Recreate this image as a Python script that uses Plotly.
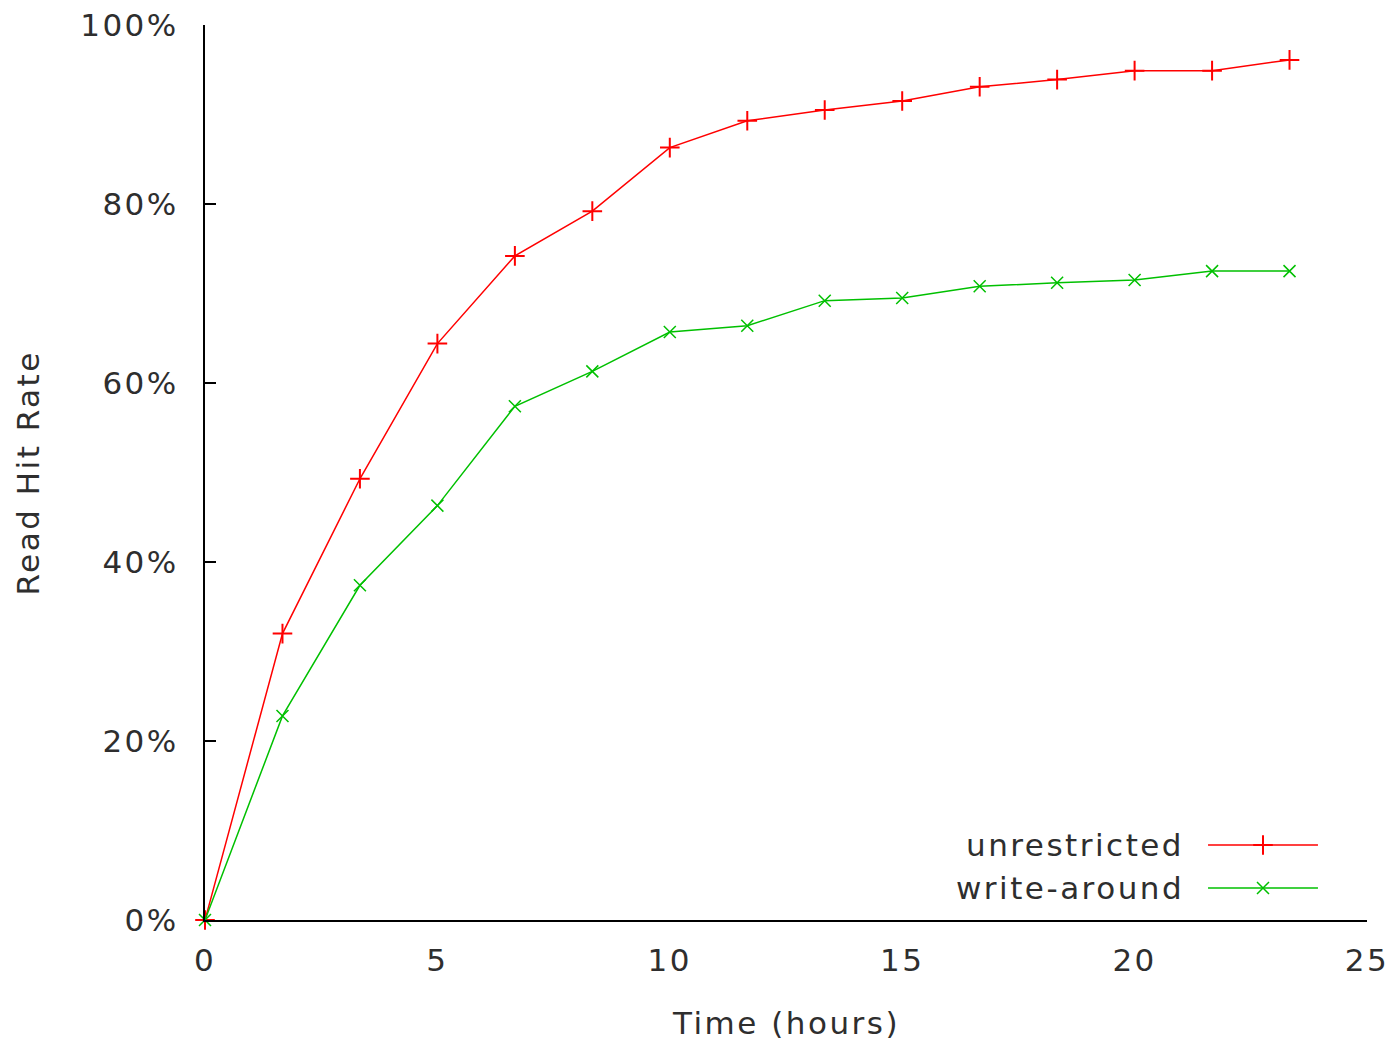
import plotly.graph_objects as go

# ---- data ----
hours = [0, 1.667, 3.333, 5, 6.667, 8.333, 10, 11.667, 13.333, 15, 16.667, 18.333, 20, 21.667, 23.333]
unrestricted = [0, 32.0, 49.3, 64.4, 74.2, 79.2, 86.3, 89.3, 90.5, 91.5, 93.1, 93.9, 94.9, 94.9, 96.1]
write_around = [0, 22.8, 37.4, 46.3, 57.4, 61.3, 65.7, 66.4, 69.2, 69.5, 70.8, 71.2, 71.5, 72.5, 72.5]
series_names = ["unrestricted", "write-around"]
x_ticks = [0, 5, 10, 15, 20, 25]
y_ticks = [0, 20, 40, 60, 80, 100]
y_tick_labels = ["0%", "20%", "40%", "60%", "80%", "100%"]

RED = "#ff0000"
GREEN = "#00c000"
FONT = "DejaVu Sans"
TXT = "#2e2e2e"
FS = 31

fig = go.Figure()

fig.add_trace(go.Scatter(
    x=hours, y=unrestricted, mode="lines+markers", name=series_names[0],
    line=dict(color=RED, width=1.5),
    marker=dict(symbol="cross-thin", size=14, line=dict(color=RED, width=2)),
    showlegend=False, cliponaxis=False))
fig.add_trace(go.Scatter(
    x=hours, y=write_around, mode="lines+markers", name=series_names[1],
    line=dict(color=GREEN, width=1.5),
    marker=dict(symbol="x-thin", size=12, line=dict(color=GREEN, width=1.5)),
    showlegend=False, cliponaxis=False))

# ---- custom legend (gnuplot style: text then sample) on overlay axis ----
leg_y = [0.0838, 0.0358]
leg_colors = [RED, GREEN]
leg_symbols = ["cross-thin", "x-thin"]
for i in range(2):
    fig.add_trace(go.Scatter(
        x=[0.8632, 0.9578], y=[leg_y[i], leg_y[i]], mode="lines",
        line=dict(color=leg_colors[i], width=1.5),
        xaxis="x2", yaxis="y2", showlegend=False, hoverinfo="skip"))
    fig.add_trace(go.Scatter(
        x=[0.9105], y=[leg_y[i]], mode="markers",
        marker=dict(symbol=leg_symbols[i], size=14 if i == 0 else 12,
                    line=dict(color=leg_colors[i], width=2 if i == 0 else 1.5)),
        xaxis="x2", yaxis="y2", showlegend=False, hoverinfo="skip"))
    fig.add_annotation(
        x=0.8313, y=leg_y[i], xref="paper", yref="paper",
        text=series_names[i], showarrow=False, xanchor="right", yanchor="middle",
        font=dict(family=FONT, size=FS, color=TXT))

# ---- axis titles ----
fig.add_annotation(
    x=0.5, y=0, xref="paper", yref="paper", text="Time (hours)", showarrow=False,
    xanchor="center", yanchor="middle", yshift=-103,
    font=dict(family=FONT, size=FS, color=TXT))
fig.add_annotation(
    x=-0.1525, y=0.5, xref="paper", yref="paper", text="Read Hit Rate", showarrow=False,
    xanchor="center", yanchor="middle", textangle=-90,
    font=dict(family=FONT, size=FS, color=TXT))

fig.update_layout(
    width=1395, height=1044,
    margin=dict(l=205, r=28, t=25, b=124, autoexpand=False),
    paper_bgcolor="white", plot_bgcolor="white",
    font=dict(family=FONT, size=FS, color=TXT),
    xaxis=dict(range=[0, 25], tickvals=x_ticks, ticks="", showgrid=False, zeroline=False,
               showline=True, linecolor="black", linewidth=2, ticklabelstandoff=12,
               automargin=False, tickfont=dict(family=FONT, size=FS, color=TXT)),
    yaxis=dict(range=[0, 100], tickvals=y_ticks, ticktext=y_tick_labels,
               ticks="inside", ticklen=11,
               tickwidth=2, tickcolor="black", showgrid=False, zeroline=False,
               showline=True, linecolor="black", linewidth=2, ticklabelstandoff=18,
               automargin=False, tickfont=dict(family=FONT, size=FS, color=TXT)),
    xaxis2=dict(range=[0, 1], overlaying="x", visible=False, fixedrange=True),
    yaxis2=dict(range=[0, 1], overlaying="y", visible=False, fixedrange=True),
)

post = (
    "document.body.style.margin='0';document.body.style.padding='0';"
    "document.querySelectorAll('.main-svg text').forEach(function(t){t.style.letterSpacing='2.5px';});"
)
fig.write_html("out.html", post_script=post, config={"displayModeBar": False})
